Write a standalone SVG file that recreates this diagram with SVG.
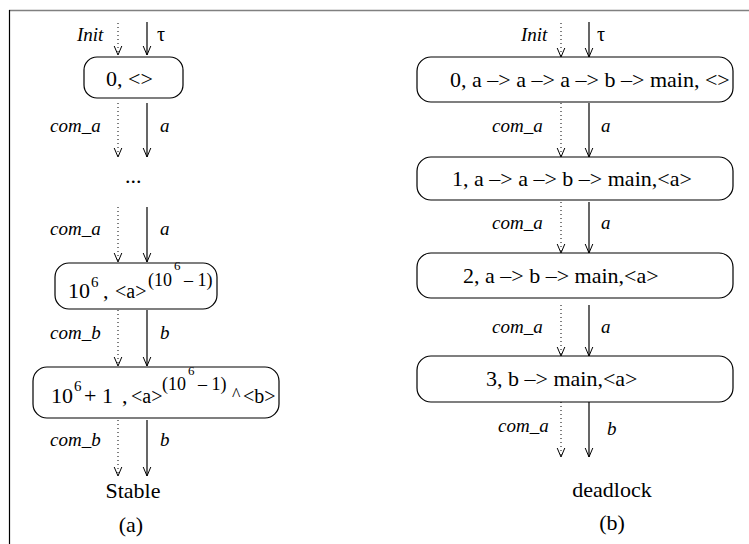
<svg xmlns="http://www.w3.org/2000/svg" width="749" height="544" viewBox="0 0 749 544">
<defs>
<marker id="ah" markerUnits="userSpaceOnUse" viewBox="0 0 10 10" markerWidth="10" markerHeight="10" refX="9" refY="5" orient="auto">
<path d="M0,1.2 L9,5 L0,8.8" fill="none" stroke="#000" stroke-width="1"/>
</marker>
</defs>
<style>
.t{font-family:"Liberation Serif","Times New Roman",serif;font-size:22px;fill:#000}
.m{font-size:20px}
.s{font-size:18px}
.p{font-size:15px}
.ss{font-size:13px}
.l{font-family:"Liberation Serif","Times New Roman",serif;font-size:19px;font-style:italic;fill:#000}
.box{fill:none;stroke:#000;stroke-width:1.2}
.sol{stroke:#000;stroke-width:1.2;fill:none;marker-end:url(#ah)}
.dot{stroke:#000;stroke-width:1;stroke-dasharray:1 3;fill:none;marker-end:url(#ah)}
</style>
<rect width="749" height="544" fill="#fff"/>
<line x1="9" y1="10.5" x2="749" y2="10.5" stroke="#808080" stroke-width="1.5"/>
<line x1="9.5" y1="10" x2="9.5" y2="544" stroke="#000" stroke-width="1.2"/>

<g id="connectors">
<line class="dot" x1="118" y1="23" x2="118" y2="55"/>
<line class="sol" x1="147" y1="22" x2="147" y2="55"/>
<line class="dot" x1="118" y1="103" x2="118" y2="157"/>
<line class="sol" x1="147" y1="103" x2="147" y2="157"/>
<line class="dot" x1="118" y1="207" x2="118" y2="262"/>
<line class="sol" x1="147" y1="207" x2="147" y2="262"/>
<line class="dot" x1="118" y1="310" x2="118" y2="366"/>
<line class="sol" x1="147" y1="310" x2="147" y2="366"/>
<line class="dot" x1="118" y1="420" x2="118" y2="476"/>
<line class="sol" x1="147" y1="420" x2="147" y2="476"/>

<line class="dot" x1="561" y1="23" x2="561" y2="57"/>
<line class="sol" x1="589" y1="22" x2="589" y2="57"/>
<line class="dot" x1="561" y1="103" x2="561" y2="157"/>
<line class="sol" x1="589" y1="103" x2="589" y2="157"/>
<line class="dot" x1="561" y1="202" x2="561" y2="253"/>
<line class="sol" x1="589" y1="202" x2="589" y2="253"/>
<line class="dot" x1="561" y1="305" x2="561" y2="356"/>
<line class="sol" x1="589" y1="305" x2="589" y2="356"/>
<line class="dot" x1="561" y1="402" x2="561" y2="457"/>
<line class="sol" x1="589" y1="402" x2="589" y2="457"/>

<text class="l" x="77" y="41">Init</text>
<text class="t m" x="157" y="41">τ</text>
<text class="l" x="50" y="132">com_a</text>
<text class="l" x="160" y="132">a</text>
<text class="t" x="125" y="183">...</text>
<text class="l" x="50" y="235">com_a</text>
<text class="l" x="160" y="235">a</text>
<text class="l" x="50" y="339">com_b</text>
<text class="l" x="160" y="339">b</text>
<text class="l" x="50" y="446">com_b</text>
<text class="l" x="160" y="446">b</text>

<text class="l" x="521" y="41">Init</text>
<text class="t m" x="597" y="41">τ</text>
<text class="l" x="492" y="132">com_a</text>
<text class="l" x="601" y="132">a</text>
<text class="l" x="492" y="229">com_a</text>
<text class="l" x="601" y="229">a</text>
<text class="l" x="492" y="333">com_a</text>
<text class="l" x="601" y="333">a</text>
<text class="l" x="498" y="432">com_a</text>
<text class="l" x="607" y="435">b</text>
</g>

<g id="nL0">
<rect class="box" x="84" y="57" width="99" height="41" rx="13"/>
<text class="t" x="106" y="86">0, &lt;&gt;</text>
</g>
<g id="nL1">
<rect class="box" x="55" y="263" width="162" height="46" rx="14"/>
<text class="t" x="68" y="298">10</text>
<text class="t p" x="91" y="287">6</text>
<text class="t" x="103" y="298">,</text>
<text class="t m" x="115" y="298">&lt;a&gt;</text>
<text class="t s" x="148" y="286">(10</text>
<text class="t ss" x="174" y="270">6</text>
<text class="t s" x="184" y="286">– 1)</text>
</g>
<g id="nL2">
<rect class="box" x="33" y="367" width="246" height="51" rx="14"/>
<text class="t" x="51" y="403">10</text>
<text class="t p" x="74" y="391">6</text>
<text class="t" x="84" y="403">+ 1</text>
<text class="t" x="122" y="403">,</text>
<text class="t m" x="131" y="403">&lt;a&gt;</text>
<text class="t s" x="162" y="390">(10</text>
<text class="t ss" x="188" y="375">6</text>
<text class="t s" x="198" y="390">– 1)</text>
<text class="t s" x="232" y="401">^</text>
<text class="t m" x="243" y="403">&lt;b&gt;</text>
</g>
<g id="stable">
<text class="t" x="133" y="498" text-anchor="middle">Stable</text>
<text class="t" x="131" y="532" text-anchor="middle">(a)</text>
</g>

<g id="nR0">
<rect class="box" x="417" y="57" width="316" height="45" rx="14"/>
<text class="t" x="450" y="87">0, a –&gt; a –&gt; a –&gt; b –&gt; main, &lt;&gt;</text>
</g>
<g id="nR1">
<rect class="box" x="417" y="157" width="316" height="43" rx="14"/>
<text class="t" x="452" y="186">1, a –&gt; a –&gt; b –&gt; main,&lt;a&gt;</text>
</g>
<g id="nR2">
<rect class="box" x="417" y="253" width="316" height="45" rx="14"/>
<text class="t" x="463" y="283">2, a –&gt; b –&gt; main,&lt;a&gt;</text>
</g>
<g id="nR3">
<rect class="box" x="417" y="356" width="316" height="46" rx="14"/>
<text class="t" x="486" y="386">3, b –&gt; main,&lt;a&gt;</text>
</g>
<g id="deadlock">
<text class="t" x="612" y="497" text-anchor="middle">deadlock</text>
<text class="t" x="612" y="530" text-anchor="middle">(b)</text>
</g>
</svg>
